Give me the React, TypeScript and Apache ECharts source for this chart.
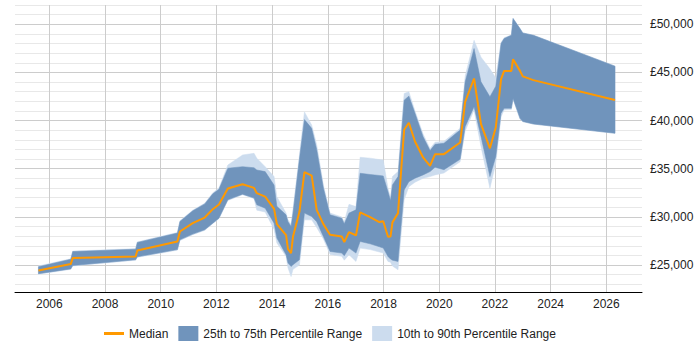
import React, { useEffect, useRef } from "react";
import * as echarts from "echarts";

const years = [
  2005.61, 2006.77, 2006.84, 2009.10, 2009.16, 2010.60, 2010.69, 2011.15, 2011.58, 2011.87,
  2012.09, 2012.41, 2012.94, 2013.35, 2013.45, 2013.75, 2014.07, 2014.17, 2014.50, 2014.57,
  2014.68, 2014.75, 2014.98, 2015.16, 2015.42, 2015.60, 2015.84, 2016.08, 2016.50, 2016.59,
  2016.76, 2017.01, 2017.16, 2017.52, 2017.85, 2017.99, 2018.16, 2018.25, 2018.32, 2018.52,
  2018.74, 2018.91, 2019.13, 2019.42, 2019.67, 2019.85, 2020.17, 2020.75, 2020.93, 2021.25,
  2021.50, 2021.82, 2022.03, 2022.22, 2022.33, 2022.59, 2022.65, 2022.90, 2023.00, 2023.38,
  2026.31,
];
const p10 = [
  24050, 24550, 24900, 25500, 25800, 26550, 27550, 28150, 28600, 29300,
  29800, 31700, 32300, 31900, 30700, 30500, 28700, 27300, 25900, 24700,
  23800, 24550, 25000, 29690, 29690, 28900, 27700, 26100, 25900, 25500,
  26070, 25370, 26760, 26600, 26350, 26240, 25370, 25300, 24900, 24510,
  31770, 33140, 33600, 34000, 34180, 34360, 34550, 35730, 38900, 41100,
  37290, 32980, 35570, 40400, 41100, 41150, 42200, 40150, 39900, 39640,
  38680,
];
const p25 = [
  24100, 24600, 24950, 25550, 25850, 26600, 27620, 28210, 28660, 29350,
  29870, 31770, 32360, 31950, 31250, 30900, 29350, 27800, 26070, 25200,
  24850, 25030, 25550, 30390, 30030, 29500, 27960, 26410, 26240, 25960,
  26760, 26240, 27450, 27200, 26900, 26760, 25890, 25620, 25500, 25370,
  32800, 33660, 34010, 34360, 34700, 35150, 34900, 35980, 39360, 41430,
  38330, 34180, 36250, 40750, 41270, 41270, 42300, 40230, 39900, 39640,
  38680,
];
const median = [
  24440, 25100, 25720, 25890, 26510, 27440, 28480, 29350, 29930, 30800,
  31280, 32940, 33390, 33010, 32460, 32110, 30830, 29250, 28110, 26660,
  26240, 27960, 30520, 34640, 34280, 30730, 29250, 28140, 27960, 27380,
  28420, 28070, 30470, 29970, 29460, 29540, 27930, 27960, 29430, 30390,
  39050, 39770, 37830, 36170, 35290, 36510, 36510, 37720, 41950, 44370,
  39640, 37120, 39280, 44300, 45160, 45160, 46370, 45160, 44590, 44200,
  42130,
];
const p75 = [
  24820, 25600, 26400, 26650, 27350, 28320, 29520, 30630, 31350, 32390,
  32870, 35050, 35215, 35100, 34870, 34700, 33300, 31100, 30210, 29500,
  29000, 30400, 36000, 40100, 39190, 37000, 33000, 30210, 29870, 29280,
  30390, 30730, 34530, 34400, 34300, 34250, 32620, 31690, 33320, 34180,
  42120, 42540, 40750, 38330, 36880, 37540, 37640, 39020, 44000, 47480,
  44020, 42470, 43570, 48000, 48520, 48860, 50590, 49550, 49100, 48860,
  45650,
];
const p90 = [
  24900, 25650, 26450, 26700, 27400, 28380, 29600, 30700, 31420, 32500,
  33000, 35390, 36430, 36600, 36085, 35215, 34180, 32100, 30400, 29700,
  29200, 30800, 36400, 40900, 39540, 37500, 33300, 30400, 30000, 29500,
  31300, 31070, 36190, 36100, 35950, 35900, 32980, 32000, 34180, 34700,
  42820, 42990, 41000, 38600, 37100, 37750, 37850, 39200, 44600, 48340,
  46580, 45370, 44430, 48100, 48600, 48900, 50650, 49550, 49100, 48860,
  45650,
];

const xTickYears = [2006, 2008, 2010, 2012, 2014, 2016, 2018, 2020, 2022, 2024, 2026];
const yLabelValues = [25000, 30000, 35000, 40000, 45000, 50000];
const yGridValues = Array.from({ length: 30 }, (_, i) => 23000 + i * 1000);

const ORANGE = "#ff9900";
const DARK = "#7094bc";
const LIGHT = "#ccdcee";
const FONT = "'Liberation Sans', Arial, sans-serif";

const NAME_MED = "Median";
const NAME_IQR = "25th to 75th Percentile Range";
const NAME_DEC = "10th to 90th Percentile Range";

function pairs(vals: number[]) {
  return years.map((y, i) => [y, vals[i]]);
}

function bandSeries(name: string, lo: number[], hi: number[], color: string, z: number) {
  return {
    name,
    type: "custom",
    coordinateSystem: "cartesian2d",
    silent: true,
    z,
    itemStyle: { color },
    encode: { x: 0, y: 1 },
    data: [[years[0], lo[0]]],
    renderItem: (_params: any, api: any) => {
      const top = years.map((y, i) => api.coord([y, hi[i]]));
      const bottom = years.map((y, i) => api.coord([y, lo[i]])).reverse();
      return {
        type: "polygon",
        shape: { points: top.concat(bottom) },
        style: { fill: color, stroke: color, lineWidth: 0.5 },
      };
    },
  };
}

export default function App() {
  const ref = useRef<HTMLDivElement>(null);
  useEffect(() => {
    if (!ref.current) return;
    const chart = echarts.init(ref.current, undefined, { renderer: "svg" });
    chart.setOption({
      animation: false,
      textStyle: { fontFamily: FONT },
      grid: { left: 15, right: 58, top: 5, bottom: 58, containLabel: false },
      xAxis: {
        type: "value",
        min: 2004.768,
        max: 2027.28,
        axisLine: { show: true, lineStyle: { color: "#000", width: 1 } },
        axisTick: { show: false, customValues: xTickYears },
        axisLabel: {
          customValues: xTickYears,
          formatter: (v: number) => String(Math.round(v)),
          color: "#222",
          fontSize: 12,
          margin: 6,
          fontFamily: FONT,
        },
        splitLine: { show: true, lineStyle: { color: "#cccccc", width: 1 } },
      },
      yAxis: {
        type: "value",
        position: "right",
        min: 22200,
        max: 52000,
        axisLine: { show: false },
        axisTick: { show: false, customValues: yGridValues },
        axisLabel: {
          customValues: yLabelValues,
          formatter: (v: number) => "£" + String(v).replace(/\B(?=(\d{3})+(?!\d))/g, ","),
          color: "#222",
          fontSize: 12,
          margin: 8,
          fontFamily: FONT,
        },
        splitLine: {
          show: true,
          lineStyle: {
            color: ["#e8e8e8", "#e8e8e8", "#cccccc", "#e8e8e8", "#e8e8e8"],
            width: 1,
          },
        },
      },
      legend: {
        left: 99,
        top: 321,
        itemWidth: 20,
        itemHeight: 15,
        itemGap: 10,
        selectedMode: false,
        textStyle: { color: "#222", fontSize: 12, fontFamily: FONT },
        data: [
          {
            name: NAME_MED,
            icon: "path://M0,0H20V3H0Z",
            itemStyle: { color: ORANGE, borderWidth: 0 },
          },
          { name: NAME_IQR, icon: "rect", itemStyle: { color: DARK, borderWidth: 0 } },
          { name: NAME_DEC, icon: "rect", itemStyle: { color: LIGHT, borderWidth: 0 } },
        ],
      },
      series: [
        bandSeries(NAME_DEC, p10, p90, LIGHT, 2),
        bandSeries(NAME_IQR, p25, p75, DARK, 3),
        {
          name: NAME_MED,
          type: "line",
          data: pairs(median),
          symbol: "none",
          showSymbol: false,
          lineStyle: { color: ORANGE, width: 2 },
          itemStyle: { color: ORANGE },
          z: 5,
        },
      ],
    });
    return () => chart.dispose();
  }, []);
  return <div ref={ref} style={{ width: 700, height: 350, position: "absolute", left: 0, top: 0 }} />;
}
